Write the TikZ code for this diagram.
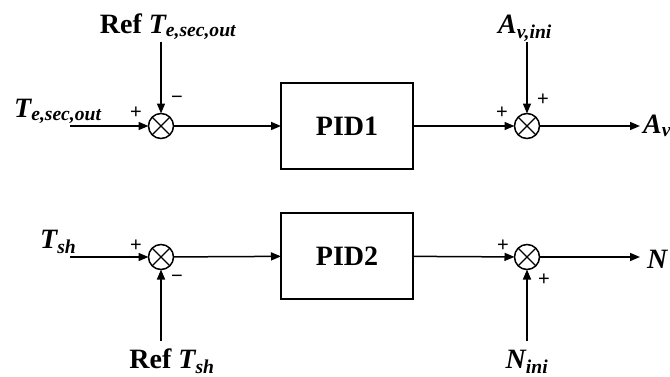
\documentclass[tikz,border=0pt]{standalone}
\usepackage{fontspec}
\setmainfont{Liberation Serif}
\newfontfamily\signfont{Liberation Sans}
\usetikzlibrary{arrows.meta}
\tikzset{
  sumnode/.style={circle, draw, line width=1.5pt, minimum size=25pt,
                  inner sep=0pt, outer sep=0pt},
  pidbox/.style={rectangle, draw, line width=1.3pt, minimum width=132pt,
                 minimum height=86pt, outer sep=0pt,
                 font=\fontsize{28}{30}\selectfont\bfseries},
  arr/.style={-{Triangle[length=10pt,width=8pt]}, line width=1.5pt},
  lbl/.style={font=\fontsize{28}{30}\selectfont\bfseries, inner sep=0pt},
  sgn/.style={font=\signfont\fontsize{20}{20}\selectfont, inner sep=0pt},
}

\begin{document}
\begin{tikzpicture}[x=1pt,y=1pt]
  \useasboundingbox (0,0) rectangle (670,376);
  % summing junctions and controllers
  \foreach \n/\x/\y in {s1/161/250, s2/527/250, s3/161/119, s4/527/119} {
    \node[sumnode] (\n) at (\x,\y) {};
    \draw[line width=1.3pt] (\n.north west) -- (\n.south east) (\n.north east) -- (\n.south west);
  }
  \node[pidbox] (pid1) at (347,250) {PID1};
  \node[pidbox] (pid2) at (347,120) {PID2};
  % free ends of the signals
  \coordinate (in1) at (70,250);
  \coordinate (ref1) at (161,334);
  \coordinate (aini) at (527,334);
  \coordinate (out1) at (640,250);
  \coordinate (in2) at (70,119);
  \coordinate (ref2) at (161,35);
  \coordinate (nini) at (527,35);
  \coordinate (out2) at (640,119);
  % signal lines
  \draw[arr] (in1) -- (s1);
  \draw[arr] (ref1) -- (s1);
  \draw[arr] (s1) -- (pid1);
  \draw[arr] (pid1) -- (s2);
  \draw[arr] (aini) -- (s2);
  \draw[arr] (s2) -- (out1);
  \draw[arr] (in2) -- (s3);
  \draw[arr] (ref2) -- (s3);
  \draw[arr] (s3) -- (pid2);
  \draw[arr] (pid2) -- (s4);
  \draw[arr] (nini) -- (s4);
  \draw[arr] (s4) -- (out2);
  % signal names
  \node[lbl, anchor=base west] (tin) at (14,259) {\itshape T\textsubscript{e,sec,out}};
  \node[lbl, anchor=base] (tref) at (168,343) {Ref \textit{T\textsubscript{e,sec,out}}};
  \node[lbl, anchor=base] (lini) at (525,343) {\itshape A\textsubscript{v,ini}};
  \node[lbl, anchor=base west] (lav) at (643,243) {\itshape A\textsubscript{v}};
  \node[lbl, anchor=base west] (tsh) at (40,128) {\itshape T\textsubscript{sh}};
  \node[lbl, anchor=base] (shref) at (172,8) {Ref \textit{T\textsubscript{sh}}};
  \node[lbl, anchor=base] (lnini) at (527,8) {\itshape N\textsubscript{ini}};
  \node[lbl, anchor=base west] (ln) at (647,108) {\itshape N};
  % signs at the junctions
  \foreach \n/\x/\y/\t in {g1/136/263/+, g2/177/276/−, g3/502/263/+, g4/543/276/+,
                           g5/136/130/+, g6/177/97/−, g7/503/130/+, g8/544/96/+}
    \node[sgn] (\n) at (\x,\y) {\t};
\end{tikzpicture}
\end{document}
